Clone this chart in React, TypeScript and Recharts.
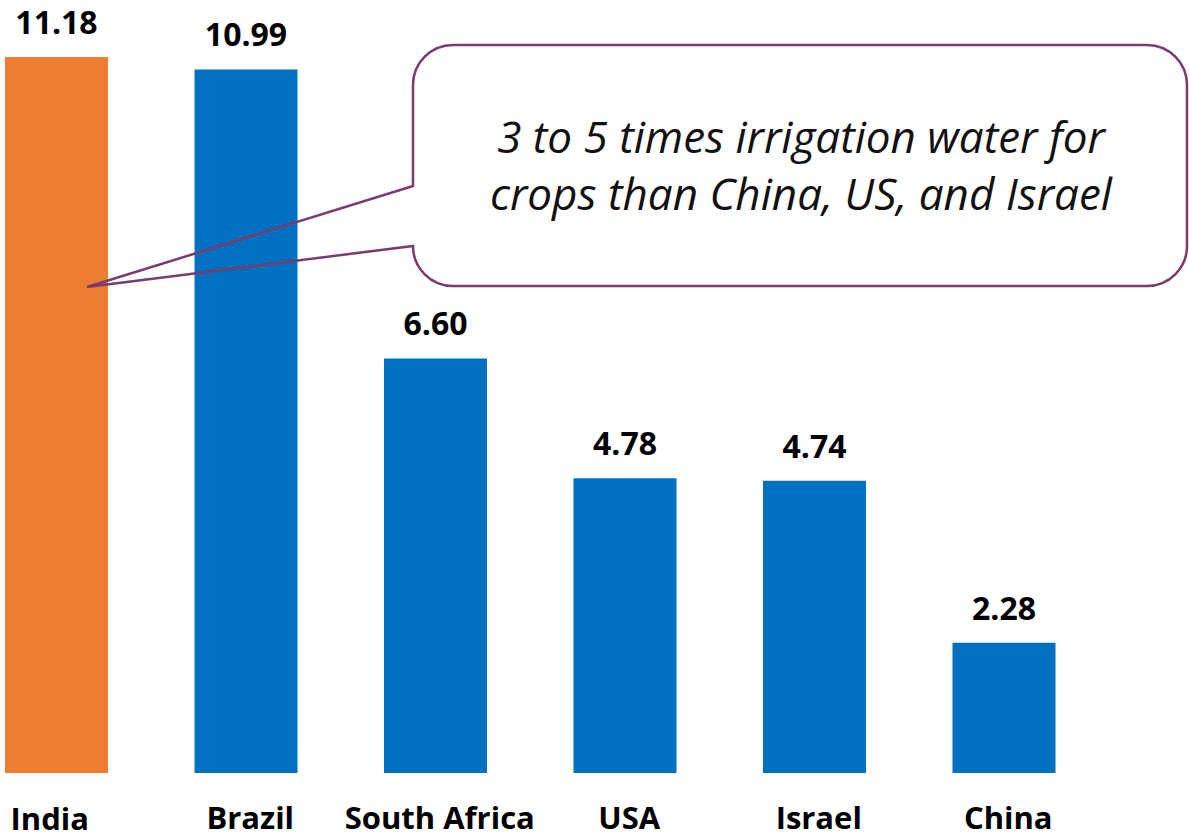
import { BarChart, Bar, XAxis, YAxis, Cell, LabelList } from 'recharts';

const countries = ['India', 'Brazil', 'South Africa', 'USA', 'Israel', 'China'];
const waterUse = [11.18, 10.99, 6.6, 4.78, 4.74, 2.28];
const highlight = ['India'];
const calloutLines = ['3 to 5 times irrigation water for', 'crops than China, US, and Israel'];

const data = countries.map((name, i) => ({ name, value: waterUse[i] }));

const ORANGE = '#ED7D31';
const BLUE = '#0070C0';
const FONT = '"Open Sans", sans-serif';

function CountryTick(props: any) {
  const { x, y, payload } = props;
  const first = payload.value === 'India';
  return (
    <text
      x={x + (first ? -7 : 4)}
      y={y + (first ? 57 : 56)}
      textAnchor="middle"
      fontFamily={FONT}
      fontWeight={700}
      fontSize={31}
      fill="#000"
    >
      {payload.value}
    </text>
  );
}

// speech-bubble annotation drawn over the bars
function Callout() {
  const r = 40;
  const d = [
    'M 453 45',
    'H 1147',
    `A ${r} ${r} 0 0 1 1187 85`,
    'V 246',
    `A ${r} ${r} 0 0 1 1147 286`,
    'H 453',
    `A ${r} ${r} 0 0 1 413 246`,
    'L 87 287',
    'L 413 186',
    'V 85',
    `A ${r} ${r} 0 0 1 453 45`,
    'Z',
  ].join(' ');
  return (
    <svg
      width={1189}
      height={838}
      style={{ position: 'absolute', left: 0, top: 0, pointerEvents: 'none' }}
    >
      <path d={d} fill="none" stroke="#7B3B6B" strokeWidth={2.5} />
      {calloutLines.map((t, i) => (
        <text
          key={t}
          x={801}
          y={153 + i * 57}
          textAnchor="middle"
          fontFamily={FONT}
          fontStyle="italic"
          fontSize={44}
          fill="#111"
        >
          {t}
        </text>
      ))}
    </svg>
  );
}

export default function App() {
  return (
    <div style={{ position: 'absolute', left: 0, top: 0, width: 1189, height: 838, background: '#fff' }}>
      <BarChart
        width={1189}
        height={838}
        data={data}
        margin={{ top: 3, right: 90, bottom: 0, left: -38 }}
        barSize={103}
      >
        <XAxis
          dataKey="name"
          axisLine={false}
          tickLine={false}
          tickSize={0}
          tickMargin={0}
          height={65}
          interval={0}
          tick={<CountryTick />}
        />
        <YAxis type="number" domain={[0.3, 12]} allowDataOverflow hide />
        <Bar dataKey="value" isAnimationActive={false}>
          {data.map((d) => (
            <Cell key={d.name} fill={highlight.includes(d.name) ? ORANGE : BLUE} />
          ))}
          <LabelList
            dataKey="value"
            position="top"
            offset={23}
            formatter={(v: any) => Number(v).toFixed(2)}
            style={{ fontFamily: FONT, fontWeight: 700, fontSize: 32, fill: '#000' }}
          />
        </Bar>
      </BarChart>
      <Callout />
    </div>
  );
}
